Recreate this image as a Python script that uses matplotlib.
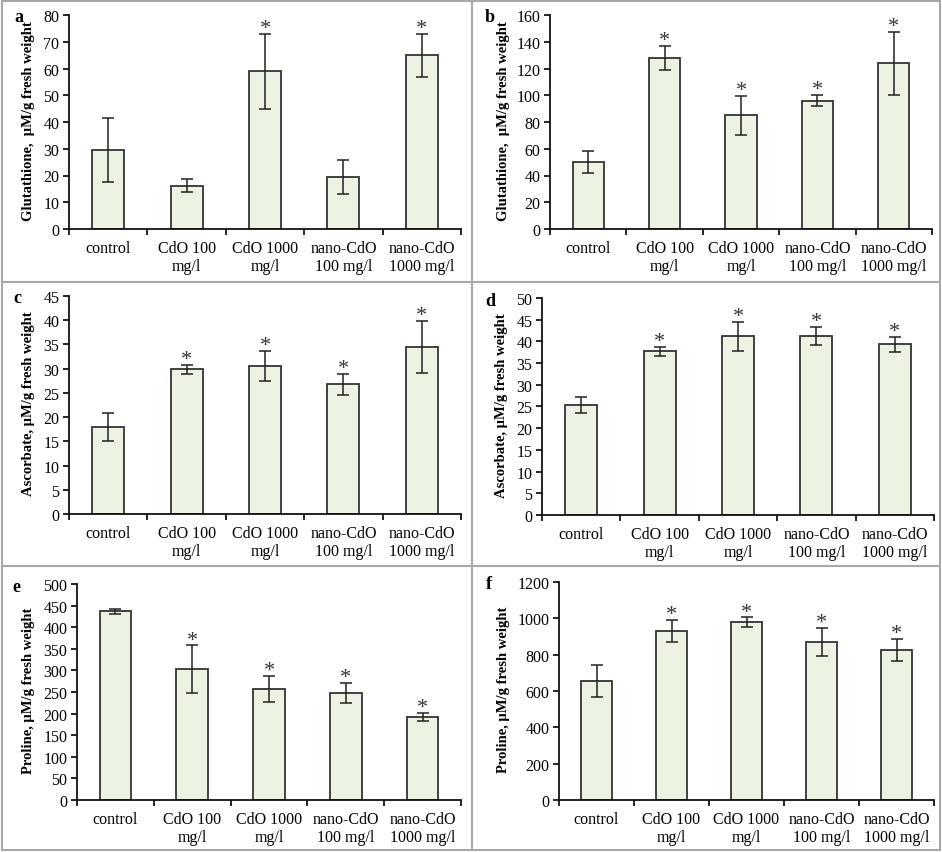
import numpy as np
import matplotlib.pyplot as plt
from matplotlib.lines import Line2D

plt.rcParams['font.family'] = ['Liberation Serif', 'DejaVu Serif']

# categories shared by all panels
categories = ['control', 'CdO 100\nmg/l', 'CdO 1000\nmg/l', 'nano-CdO\n100 mg/l', 'nano-CdO\n1000 mg/l']

# panel data: means, errors, significance flags
glut_a = [29.5, 16.2, 59.0, 19.5, 65.0]
glut_a_err = [12.0, 2.4, 14.0, 6.3, 8.0]
glut_a_sig = [0, 0, 1, 0, 1]

glut_b = [50.0, 128.0, 85.0, 96.0, 124.0]
glut_b_err = [8.0, 9.0, 14.5, 4.0, 23.5]
glut_b_sig = [0, 1, 1, 1, 1]

asc_c = [18.0, 29.9, 30.6, 26.8, 34.5]
asc_c_err = [2.9, 0.9, 3.1, 2.2, 5.4]
asc_c_sig = [0, 1, 1, 1, 1]

asc_d = [25.3, 37.7, 41.2, 41.3, 39.3]
asc_d_err = [1.8, 1.1, 3.3, 2.1, 1.8]
asc_d_sig = [0, 1, 1, 1, 1]

pro_e = [437.0, 303.0, 258.0, 248.0, 192.0]
pro_e_err = [6.0, 55.0, 30.0, 23.0, 10.0]
pro_e_sig = [0, 1, 1, 1, 1]

pro_f = [655.0, 930.0, 980.0, 870.0, 825.0]
pro_f_err = [90.0, 62.0, 25.0, 78.0, 60.0]
pro_f_sig = [0, 1, 1, 1, 1]

W, H = 942, 853
fig = plt.figure(figsize=(W / 100, H / 100), dpi=100)

panels = [
    # letter, letter x px, ylabel centre x px, values, errors, sig, ylabel, ymax, step, (left, top, right, bottom) px
    ('a', 14, 29, glut_a, glut_a_err, glut_a_sig, 'Glutathione,  µM/g fresh weight', 80, 10, (69, 16, 461, 230)),
    ('b', 485, 503, glut_b, glut_b_err, glut_b_sig, 'Glutathione,  µM/g fresh weight', 160, 20, (550, 16, 932, 230)),
    ('c', 13, 29, asc_c, asc_c_err, asc_c_sig, 'Ascorbate, µM/g fresh weight', 45, 5, (69, 297, 461, 515)),
    ('d', 485, 502, asc_d, asc_d_err, asc_d_sig, 'Ascorbate, µM/g fresh weight', 50, 5, (542, 299, 934, 516)),
    ('e', 12, 29, pro_e, pro_e_err, pro_e_sig, 'Proline, µM/g fresh weight', 500, 50, (77, 585, 461, 801)),
    ('f', 486, 503, pro_f, pro_f_err, pro_f_sig, 'Proline, µM/g fresh weight', 1200, 200, (559, 583, 934, 801)),
]

x = np.arange(len(categories))
for letter, lx, cx, vals, errs, sig, ylab, ymax, step, (l, t, r, b) in panels:
    ax = fig.add_axes([l / W, 1 - b / H, (r - l) / W, (b - t) / H])
    ax.bar(x, vals, width=0.41, color='#ecf3e3', edgecolor='#333333', linewidth=1.3, zorder=2)
    ax.errorbar(x, vals, yerr=errs, fmt='none', ecolor='#222222', elinewidth=1.1,
                capsize=4, capthick=1.1, zorder=3)
    for i in range(len(vals)):
        if sig[i]:
            ax.annotate('*', (x[i], vals[i] + errs[i]), xytext=(0, -3), textcoords='offset points',
                        ha='center', va='bottom', fontsize=16, color='#333333')
    ax.set_xlim(-0.5, len(categories) - 0.5)
    ax.set_ylim(0, ymax)
    ax.set_yticks(np.arange(0, ymax + step / 2, step))
    ax.set_xticks(x)
    ax.set_xticklabels(categories, fontsize=11.5, linespacing=1.15)
    ax.set_xticks(np.arange(-0.5, len(categories), 1.0), minor=True)
    ax.tick_params(axis='x', which='major', length=0, pad=8)
    ax.tick_params(axis='x', which='minor', length=4, width=1.2, direction='out')
    ax.tick_params(axis='y', length=4, width=1.2, direction='out', labelsize=11.5, pad=3)
    for s in ['top', 'right']:
        ax.spines[s].set_visible(False)
    for s in ['left', 'bottom']:
        ax.spines[s].set_linewidth(1.3)
        ax.spines[s].set_color('#111111')
    ax.set_ylabel(ylab, fontsize=10.5, fontweight='bold', va='center', ha='center')
    ax.yaxis.set_label_coords((cx - l) / (r - l), 0.51)
    fig.text(lx / W, 1 - (t + 2) / H, letter, fontsize=13, fontweight='bold', va='center')

# table-like borders around the panels
border = '#a8a8a8'
lines = [
    ((2, 940), (283, 283)), ((2, 940), (567, 567)),
    ((472, 472), (2, 851)),
    ((2, 940), (2, 2)), ((2, 940), (851, 851)),
    ((2, 2), (2, 851)), ((940, 940), (2, 851)),
]
for xs, ys in lines:
    fig.add_artist(Line2D([xs[0] / W, xs[1] / W], [1 - ys[0] / H, 1 - ys[1] / H],
                          color=border, linewidth=1.5, transform=fig.transFigure))

fig.savefig('out.png', dpi=100)
